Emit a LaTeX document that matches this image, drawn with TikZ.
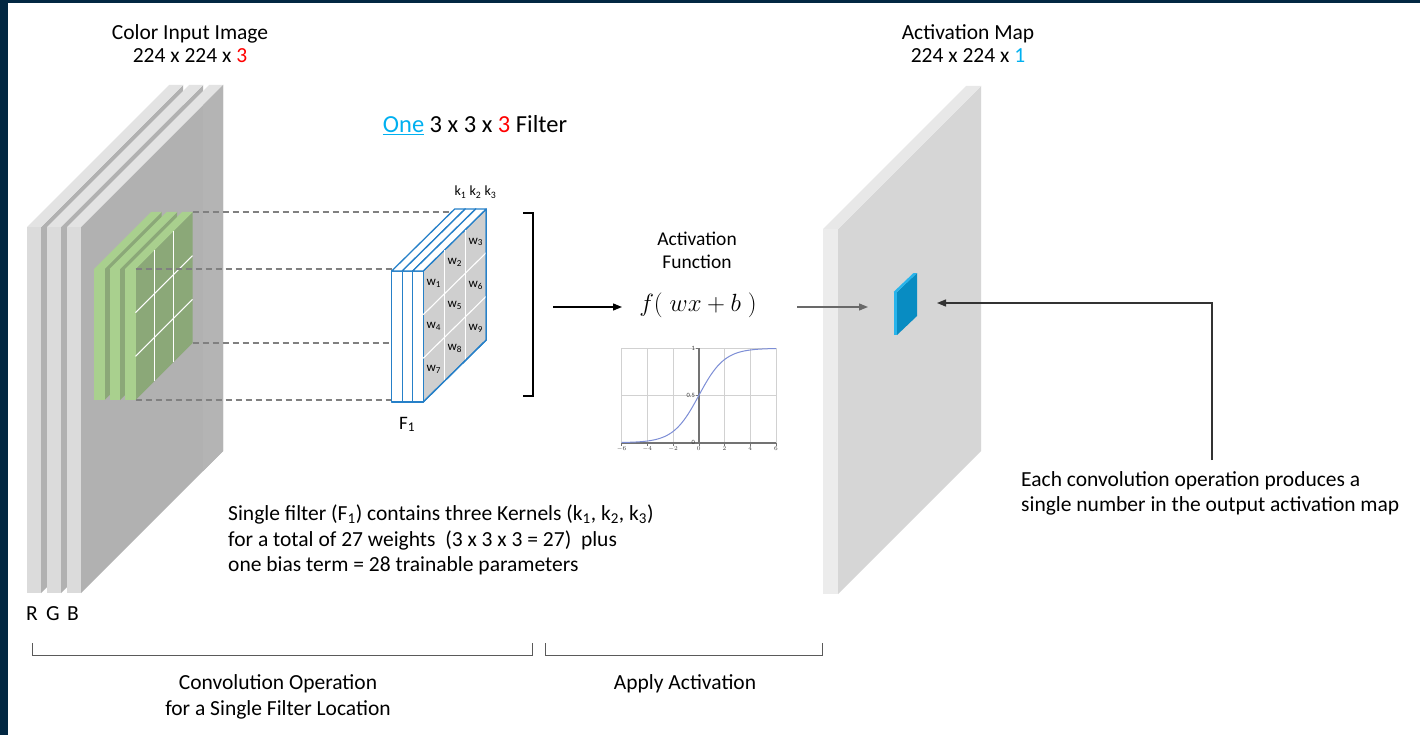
\documentclass[tikz,border=0pt]{standalone}
\usepackage{fontspec}
\setmainfont{Carlito}
\usetikzlibrary{arrows.meta}

\definecolor{navy}{RGB}{2,39,66}
\definecolor{slabfront}{RGB}{219,219,219}
\definecolor{slabtop}{RGB}{227,227,227}
\definecolor{slabside}{RGB}{177,177,177}
\definecolor{slabedge}{RGB}{180,180,180}
\definecolor{mapfront}{RGB}{236,236,236}
\definecolor{maptop}{RGB}{232,232,232}
\definecolor{mapside}{RGB}{214,214,214}
\definecolor{greenlight}{RGB}{169,208,142}
\definecolor{greendark}{RGB}{139,168,120}
\definecolor{filterblue}{RGB}{38,128,200}
\definecolor{filterside}{RGB}{207,207,207}
\definecolor{cellblue}{RGB}{8,140,194}
\definecolor{celllight}{RGB}{40,180,235}
\definecolor{accentcyan}{RGB}{0,176,240}
\definecolor{accentred}{RGB}{255,0,0}
\definecolor{curveblue}{RGB}{125,142,214}
\definecolor{projgray}{RGB}{128,128,128}
\definecolor{arrowgray}{RGB}{105,105,105}
\definecolor{bracegray}{RGB}{90,90,90}

% thin plate seen obliquely: x0, top, bottom, width, depth-x, depth-y, front, top, side colours
\newcommand\slabbox[9]{%
  \fill[#9] (#1+#4,#2) -- ++(#5,-#6) -- ++(0,#3-#2) -- (#1+#4,#3) -- cycle;
  \fill[#7] (#1,#2) rectangle (#1+#4,#3);
  \fill[#8] (#1,#2) -- ++(#5,-#6) -- ++(#4,0) -- (#1+#4,#2) -- cycle;
}
% one kernel slice of the filter: x0, width
\newcommand\kernelslice[2]{%
  \filldraw[kedge, fill=filterside] (#1+#2,271) -- ++(63,-62) -- ++(0,131) -- (#1+#2,402) -- cycle;
  \filldraw[kedge, fill=white] (#1,271) rectangle (#1+#2,402);
  \filldraw[kedge, fill=white] (#1,271) -- ++(63,-62) -- ++(#2,0) -- (#1+#2,271) -- cycle;
}
\newcommand\actformula{$f(\;wx+b\;)$}

\begin{document}
\begin{tikzpicture}[x=1pt,y=-1pt,
  txt/.style={font=\fontsize{21.5}{25}\selectfont, inner sep=0pt},
  smalltxt/.style={font=\fontsize{19.5}{23}\selectfont, inner sep=0pt},
  wlab/.style={font=\fontsize{13}{15}\selectfont, inner sep=0pt},
  kedge/.style={draw=filterblue, line width=1.3pt, line join=round},
  gridw/.style={white, line width=1.1pt},
  projline/.style={projgray, line width=1.1pt, dash pattern=on 6pt off 4pt},
  brace/.style={bracegray, line width=1pt},
  tick/.style={font=\fontsize{6.5}{7}\selectfont, inner sep=1pt, text=black!75}]

\useasboundingbox (0,0) rectangle (1420,735);
\fill[white] (0,0) rectangle (1420,735);
\fill[navy] (0,0) rectangle (8,735);
\fill[navy] (0,0) rectangle (1420,3);

% ---------- input volume (R, G, B planes) ----------
\slabbox{27}{227}{593}{14}{142}{142}{slabfront}{slabtop}{slabside}
\slabbox{47}{227}{593}{14}{142}{142}{slabfront}{slabtop}{slabside}
\slabbox{67}{227}{593}{14}{142}{142}{slabfront}{slabtop}{slabside}
% back edges of the planes behind
\fill[slabedge] (203,105) -- (223,85) -- (223,451) -- (203,471) -- cycle;

% ---------- receptive field on the input ----------
\slabbox{94}{269}{400}{10.5}{57}{57}{greenlight}{greenlight}{greendark}
\slabbox{109.5}{269}{400}{10.5}{57}{57}{greenlight}{greenlight}{greendark}
\slabbox{125}{269}{400}{10.5}{57}{57}{greenlight}{greenlight}{greendark}
\draw[gridw] (154.5,250) -- (154.5,381);
\draw[gridw] (173.5,231) -- (173.5,362);
\draw[gridw] (135.5,312.7) -- (192.5,255.7);
\draw[gridw] (135.5,356.3) -- (192.5,299.3);

% corners used by the projection lines
\coordinate (gbt) at (192.5,212);
\coordinate (gft) at (135.5,269);
\coordinate (gbb) at (192.5,343);
\coordinate (gfb) at (135.5,400);
\coordinate (fbt) at (454.7,209);
\coordinate (fft) at (391.7,271);
\coordinate (fbb) at (454.7,340);
\coordinate (ffb) at (391.7,402);

\draw[projline] (gbt) -- (gbt -| fbt);
\draw[projline] (gft) -- (gft -| fft);
\draw[projline] (gbb) -- (gbb -| fbb);
\draw[projline] (gfb) -- (gfb -| ffb);

% ---------- the 3x3x3 filter ----------
\kernelslice{391.7}{10.5}
\kernelslice{402.2}{10.5}
\kernelslice{412.7}{10.5}
\draw[gridw] (444.2,250.3) -- (444.2,381.3);
\draw[gridw] (465.2,229.7) -- (465.2,360.7);
\draw[gridw] (423.2,314.7) -- (486.2,252.7);
\draw[gridw] (423.2,358.3) -- (486.2,296.3);
\draw[kedge] (486.2,209) -- (486.2,340) -- (423.2,402);

\node[wlab] (w1) at (433.7,283) {w\textsubscript{1}};
\node[wlab] (w2) at (454.7,262.5) {w\textsubscript{2}};
\node[wlab] (w3) at (475.7,242) {w\textsubscript{3}};
\node[wlab] (w4) at (433.7,326) {w\textsubscript{4}};
\node[wlab] (w5) at (454.7,305.5) {w\textsubscript{5}};
\node[wlab] (w6) at (475.7,285) {w\textsubscript{6}};
\node[wlab] (w7) at (433.7,369) {w\textsubscript{7}};
\node[wlab] (w8) at (454.7,348.5) {w\textsubscript{8}};
\node[wlab] (w9) at (475.7,328) {w\textsubscript{9}};

\node[wlab, font=\fontsize{14}{16}\selectfont, anchor=base] (klab) at (475.5,196) {k\textsubscript{1} k\textsubscript{2} k\textsubscript{3}};
\node[txt, font=\fontsize{19}{22}\selectfont, anchor=base] (flab) at (407,429) {F\textsubscript{1}};

% closing bracket of the filter
\draw[black, line width=1.2pt] (523,213) -- (533,213) -- (533,396) -- (523,396);

% ---------- activation ----------
\node[smalltxt, anchor=base] (act1) at (697,245.5) {Activation};
\node[smalltxt, anchor=base] (act2) at (697,268.5) {Function};
\node[inner sep=0pt, anchor=base, font=\fontsize{29}{32}\selectfont] (fx) at (698,311.5) {\actformula};

\coordinate (a1s) at (553,307);
\coordinate (a1e) at (622,307);
\draw[black, line width=1.3pt, -{Triangle[length=9pt,width=7pt]}] (a1s) -- (a1e);

% sigmoid curve
\coordinate (sig0) at (698.8,442.7);
\begin{scope}[shift={(sig0)}, x=12.86pt, y=94.4pt]
  \foreach \gx in {-6,-4,-2,2,4,6} \draw[black!18, line width=0.7pt] (\gx,0) -- (\gx,1);
  \foreach \gy in {0.5,1} \draw[black!18, line width=0.7pt] (-6,\gy) -- (6,\gy);
  \draw[black!55, line width=1.6pt] (-6,0) -- (6,0);
  \draw[black!55, line width=1.6pt] (0,0) -- (0,1);
  \foreach \gx in {-6,-4,-2,0,2,4,6} {
    \draw[black!55, line width=0.6pt] (\gx,0) -- (\gx,-0.03);
    \node[tick, anchor=north] at (\gx,-0.03) {$\gx$};
  }
  \foreach \gy/\gl in {0/0,0.5/0.5,1/1} {
    \draw[black!55, line width=0.6pt] (0,\gy) -- (-0.25,\gy);
    \node[tick, anchor=east, inner sep=0.5pt] at (-0.25,\gy) {\gl};
  }
  \draw[curveblue, line width=1pt, domain=-6:6, samples=80, smooth] plot (\x,{1/(1+exp(-\x))});
\end{scope}

% ---------- output activation map ----------
\slabbox{823}{229}{594}{15}{143}{143}{mapfront}{maptop}{mapside}
\slabbox{893.5}{292}{335}{3.5}{20}{19}{celllight}{celllight}{cellblue}

\coordinate (a2s) at (797,307);
\coordinate (a2e) at (868,307);
\draw[arrowgray, line width=1.3pt, -{Triangle[length=9pt,width=7pt]}] (a2s) -- (a2e);

\coordinate (notefoot) at (1212,460);
\coordinate (notebend) at (1212,303);
\coordinate (celltip) at (937,303);
\draw[black!80, line width=1.3pt, -{Triangle[length=9pt,width=7pt]}] (notefoot) -- (notebend) -- (celltip);

% ---------- titles ----------
\node[txt, anchor=base] (intitle) at (190,40) {Color Input Image};
\node[txt, anchor=base] (indim) at (190,63) {224 x 224 x {\color{accentred}3}};
\node[txt, anchor=base] (outtitle) at (968,40) {Activation Map};
\node[txt, anchor=base] (outdim) at (968,63) {224 x 224 x {\color{accentcyan}1}};
\node[txt, font=\fontsize{24.5}{28}\selectfont, anchor=base] (ftitle) at (475,133)
  {{\color{accentcyan}\underline{One}} 3 x 3 x {\color{accentred}3} Filter};

\node[txt, anchor=base] (lr) at (32,620) {R};
\node[txt, anchor=base] (lg) at (53,620) {G};
\node[txt, anchor=base] (lb) at (73,620) {B};

\node[txt, anchor=base west] (p1) at (228,520) {Single filter (F\textsubscript{1}) contains three Kernels (k\textsubscript{1}, k\textsubscript{2}, k\textsubscript{3})};
\node[txt, anchor=base west] (p2) at (228,546) {for a total of 27 weights\ \ (3 x 3 x 3 = 27)\ \ plus};
\node[txt, anchor=base west] (p3) at (228,571) {one bias term = 28 trainable parameters};

\node[txt, anchor=base west] (n1) at (1021,486) {Each convolution operation produces a};
\node[txt, anchor=base west] (n2) at (1021,511) {single number in the output activation map};

% ---------- stage brackets ----------
\draw[brace] (32,643) -- (32,655) -- (532,655) -- (532,643);
\draw[brace] (545,643) -- (545,655) -- (822,655) -- (822,643);
\node[txt, anchor=base] (s1a) at (278,689) {Convolution Operation};
\node[txt, anchor=base] (s1b) at (278,715) {for a Single Filter Location};
\node[txt, anchor=base] (s2) at (685,689) {Apply Activation};
\end{tikzpicture}
\end{document}
